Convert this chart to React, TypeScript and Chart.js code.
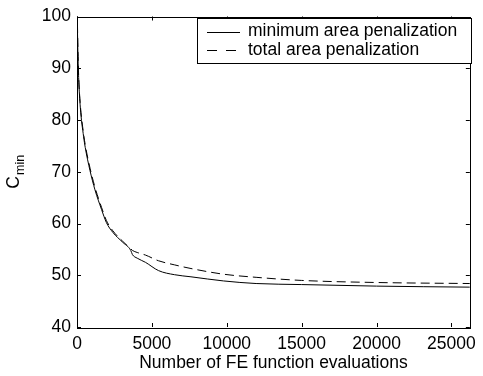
import React, { useEffect, useRef } from 'react';
import { Chart, registerables } from 'chart.js';

Chart.register(...registerables);

const evaluations = [0, 60, 110, 220, 440, 550, 870, 1200, 1640, 1960, 2390, 3040, 3590, 3700, 4020, 4570, 5440, 6520, 7610, 9790, 11960, 15000, 20000, 26230];
const minimumAreaPenalization = [103, 93, 88.2, 82.5, 76.8, 74.7, 70.2, 66.5, 62.7, 60.2, 58.3, 56.4, 54.8, 54.0, 53.3, 52.5, 50.9, 50.1, 49.7, 48.9, 48.4, 48.2, 47.9, 47.7];
const totalAreaPenalization = [104, 94, 88.6, 83.0, 77.3, 75.2, 70.7, 67.0, 63.1, 60.6, 58.6, 56.6, 55.1, 54.8, 54.4, 53.9, 52.8, 52.0, 51.3, 50.2, 49.6, 49.0, 48.6, 48.4];
const seriesLabels = ['minimum area penalization', 'total area penalization'];
const xTicks = [0, 5000, 10000, 15000, 20000, 25000];
const yTicks = [40, 50, 60, 70, 80, 90, 100];
const xMin = 0;
const xMax = 26230;
const yMin = 40;
const yMax = 100;
const xAxisTitle = 'Number of FE function evaluations';
const yAxisTitleMain = 'C';
const yAxisTitleSub = 'min';

const FONT = '"Liberation Sans", Arial, Helvetica, sans-serif';
const DASH = [9, 5];

const decorPlugin = {
  id: 'matlabDecor',
  afterDraw(chart: any) {
    const { ctx, chartArea } = chart;
    const { left, right, top, bottom } = chartArea;
    const xs = chart.scales.x;
    const ys = chart.scales.y;
    ctx.save();
    ctx.strokeStyle = '#000';
    ctx.lineWidth = 1;
    ctx.strokeRect(Math.round(left) + 0.5, Math.round(top) + 0.5, Math.round(right - left), Math.round(bottom - top));
    const tl = 4;
    ctx.beginPath();
    xTicks.forEach((v) => {
      const px = Math.round(xs.getPixelForValue(v)) + 0.5;
      ctx.moveTo(px, bottom);
      ctx.lineTo(px, bottom - tl);
      ctx.moveTo(px, top);
      ctx.lineTo(px, top + tl);
    });
    yTicks.forEach((v) => {
      const py = Math.round(ys.getPixelForValue(v)) + 0.5;
      ctx.moveTo(left, py);
      ctx.lineTo(left + tl, py);
      ctx.moveTo(right, py);
      ctx.lineTo(right - tl, py);
    });
    ctx.stroke();

    ctx.fillStyle = '#000';
    const cy = (top + bottom) / 2;
    ctx.translate(19, cy);
    ctx.rotate(-Math.PI / 2);
    ctx.font = `17.5px ${FONT}`;
    ctx.textBaseline = 'alphabetic';
    const mainW = ctx.measureText(yAxisTitleMain).width;
    ctx.font = `12.5px ${FONT}`;
    const subW = ctx.measureText(yAxisTitleSub).width;
    const total = mainW + subW + 1;
    const x0 = -total / 2;
    ctx.font = `17.5px ${FONT}`;
    ctx.textAlign = 'left';
    ctx.fillText(yAxisTitleMain, x0, 0);
    ctx.font = `12.5px ${FONT}`;
    ctx.fillText(yAxisTitleSub, x0 + mainW + 1, 5);
    ctx.restore();

    ctx.save();
    const bx = 197.5, by = 18.5, bw = 274, bh = 45;
    ctx.fillStyle = '#fff';
    ctx.fillRect(bx, by, bw, bh);
    ctx.strokeStyle = '#000';
    ctx.lineWidth = 1;
    ctx.strokeRect(bx, by, bw, bh);
    const rows = [31.5, 50];
    ctx.font = `17.5px ${FONT}`;
    ctx.fillStyle = '#000';
    ctx.textBaseline = 'middle';
    ctx.textAlign = 'left';
    rows.forEach((ry, i) => {
      ctx.beginPath();
      ctx.setLineDash(i === 1 ? [10, 9] : []);
      ctx.moveTo(207, Math.round(ry) + 0.5);
      ctx.lineTo(240, Math.round(ry) + 0.5);
      ctx.stroke();
      ctx.setLineDash([]);
      ctx.fillText(seriesLabels[i], 248, ry);
    });
    ctx.restore();
  },
};

export default function App() {
  const canvasRef = useRef<HTMLCanvasElement | null>(null);

  useEffect(() => {
    document.body.style.margin = '0';
    const canvas = canvasRef.current;
    if (!canvas) return;
    const chart = new Chart(canvas, {
      type: 'line',
      data: {
        datasets: [
          {
            label: seriesLabels[0],
            data: evaluations.map((x, i) => ({ x, y: minimumAreaPenalization[i] })),
            borderColor: '#000',
            borderWidth: 1,
            pointRadius: 0,
            fill: false,
            cubicInterpolationMode: 'monotone',
          },
          {
            label: seriesLabels[1],
            data: evaluations.map((x, i) => ({ x, y: totalAreaPenalization[i] })),
            borderColor: '#000',
            borderWidth: 1,
            borderDash: DASH,
            pointRadius: 0,
            fill: false,
            cubicInterpolationMode: 'monotone',
          },
        ],
      },
      plugins: [decorPlugin],
      options: {
        responsive: false,
        animation: false,
        devicePixelRatio: 1,
        layout: { padding: { left: 0, right: 5, top: 9, bottom: 0 } },
        plugins: {
          legend: { display: false },
          tooltip: { enabled: false },
        },
        scales: {
          x: {
            type: 'linear',
            min: xMin,
            max: xMax,
            afterBuildTicks: (s: any) => {
              s.ticks = xTicks.map((v) => ({ value: v }));
            },
            afterFit: (s: any) => {
              s.height = 49;
            },
            grid: { display: false, drawTicks: false },
            border: { display: false },
            ticks: {
              color: '#000',
              font: { family: FONT, size: 17.5 },
              padding: 7,
              maxRotation: 0,
              autoSkip: false,
              callback: (v: any) => String(v),
            },
            title: {
              display: true,
              text: xAxisTitle,
              color: '#000',
              font: { family: FONT, size: 17.5 },
              padding: { top: 0, bottom: 2 },
            },
          },
          y: {
            type: 'linear',
            min: yMin,
            max: yMax,
            afterBuildTicks: (s: any) => {
              s.ticks = yTicks.map((v) => ({ value: v }));
            },
            afterFit: (s: any) => {
              s.width = 77;
            },
            grid: { display: false, drawTicks: false },
            border: { display: false },
            ticks: {
              color: '#000',
              font: { family: FONT, size: 17.5 },
              padding: 6,
              autoSkip: false,
              callback: (v: any) => String(v),
            },
          },
        },
      },
    } as any);
    return () => chart.destroy();
  }, []);

  return (
    <div style={{ position: 'absolute', left: 0, top: 0, width: 483, height: 376, background: '#fff' }}>
      <canvas ref={canvasRef} width={483} height={376} style={{ display: 'block', width: 483, height: 376 }} />
    </div>
  );
}
